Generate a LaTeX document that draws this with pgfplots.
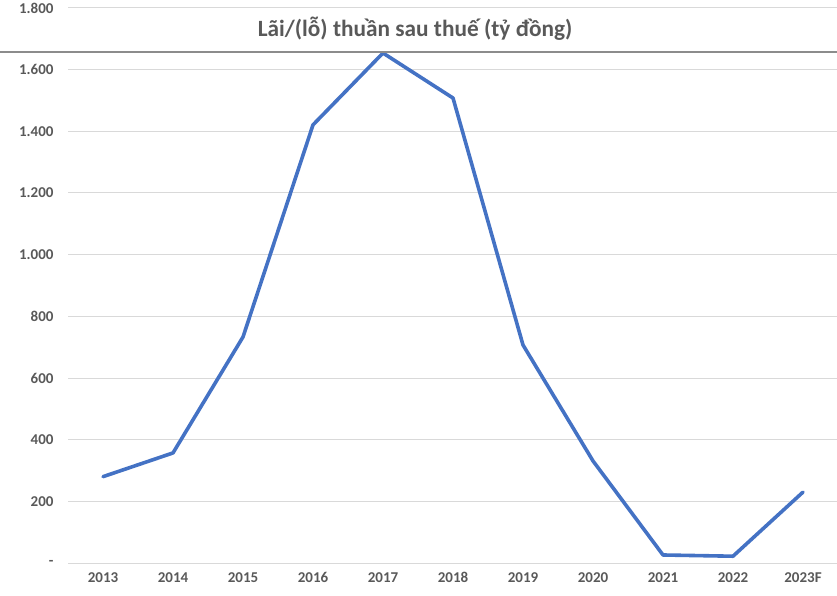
\documentclass[border=0pt]{standalone}
\usepackage{pgfplots}
\pgfplotsset{compat=1.18}
\usepackage{fontspec}
\setmainfont{Carlito}
\definecolor{txt}{HTML}{595959}
\definecolor{gridc}{HTML}{D9D9D9}
\definecolor{linec}{HTML}{4472C4}
\begin{document}
\begin{tikzpicture}[x=1pt,y=1pt]
\useasboundingbox (0,0) rectangle (837,595);
\begin{axis}[at={(68pt,32pt)}, anchor=south west, scale only axis,
  width=770pt, height=555pt,
  xmin=-0.5, xmax=10.5, ymin=0, ymax=1800,
  ytick={0,200,...,1800},
  yticklabels={-,200,400,600,800,1.000,1.200,1.400,1.600,1.800},
  xtick={0,1,2,3,4,5,6,7,8,9,10},
  xticklabels={2013,2014,2015,2016,2017,2018,2019,2020,2021,2022,2023F},
  ymajorgrids, grid style={draw=gridc, line width=1pt},
  axis line style={draw=none}, major tick length=0pt,
  tick label style={font=\bfseries\fontsize{15}{17}\selectfont, text=txt},
  yticklabel style={xshift=-11pt},
  xticklabel style={yshift=-6pt},
  /pgf/number format/assume math mode=true,
  clip=false]
\addplot[linec, line width=3.6pt, line join=round, line cap=round] coordinates {
(0,280) (1,357) (2,733) (3,1421) (4,1654) (5,1508) (6,707) (7,331) (8,26) (9,22) (10,230)};
\end{axis}
\draw[draw=black!45, line width=1.2pt] (0,543) -- (837,543);
\node[font=\bfseries\fontsize{23.3}{26}\selectfont, text=txt] at (415,566) {Lãi/(lỗ) thuần sau thuế (tỷ đồng)};
\end{tikzpicture}
\end{document}
